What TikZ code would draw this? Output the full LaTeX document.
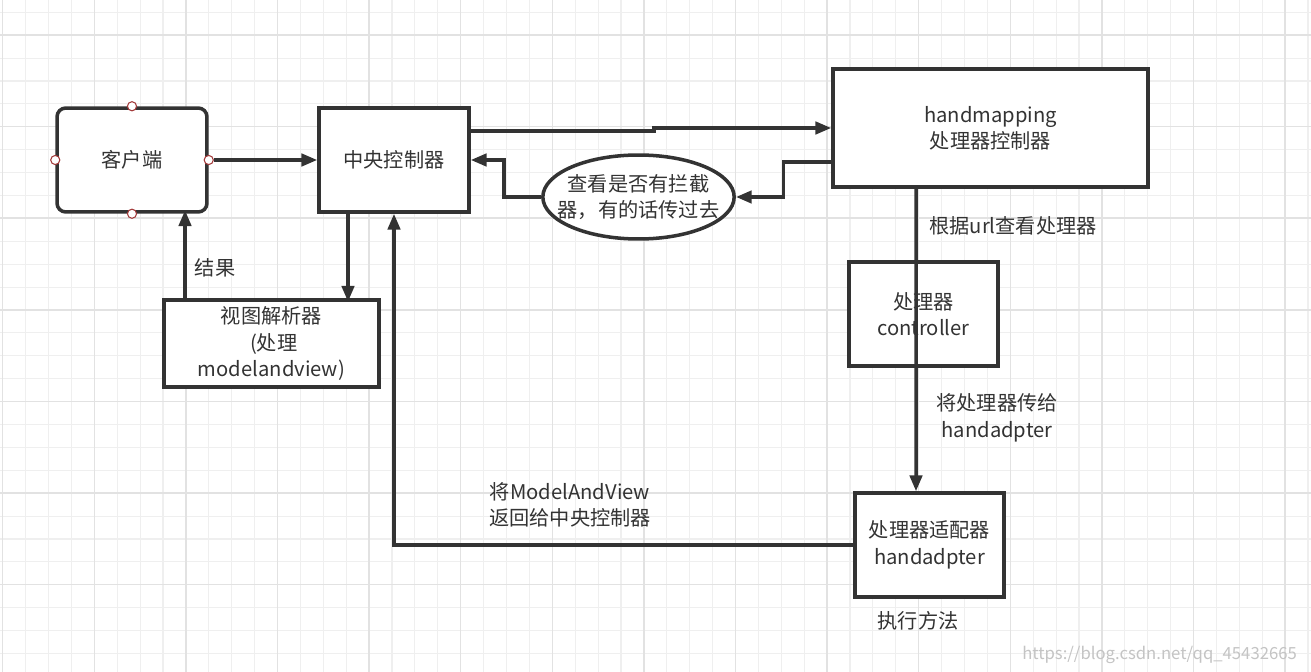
\documentclass[tikz,border=0pt]{standalone}
\usepackage{fontspec}
\setmainfont{Noto Sans CJK SC}
\usetikzlibrary{arrows.meta,shapes.geometric}

\definecolor{ink}{HTML}{333333}
\definecolor{gridminor}{HTML}{EFEFEF}
\definecolor{gridmajor}{HTML}{E2E2E2}
\definecolor{port}{HTML}{A33A3A}

\begin{document}
\begin{tikzpicture}[x=0.02cm, y=-0.02cm, >={Triangle[length=9pt,width=7pt]},
  every box/.style={draw=ink, line width=2pt, fill=white, text=ink, align=center,
    font=\fontsize{11.5}{15}\selectfont},
  every text/.style={text=ink, align=center, font=\fontsize{11.5}{15}\selectfont},
  flow/.style={->, draw=ink, line width=2pt},
  port/.style={circle, draw=port, fill=white, line width=0.6pt, inner sep=0pt, minimum size=5.2pt}]

% background and grid
\useasboundingbox (0,0) rectangle (1311,672);
\fill[white] (0,0) rectangle (1311,672);
\foreach \i in {0,...,57}
  \draw[gridminor, line width=0.6pt] (2.7+22.9*\i,0) -- ++(0,672);
\foreach \i in {0,...,29}
  \draw[gridminor, line width=0.6pt] (0,12.3+22.9*\i) -- ++(1311,0);
\foreach \i in {0,...,14}
  \draw[gridmajor, line width=0.8pt] (2.7+91.6*\i,0) -- ++(0,672);
\foreach \i in {0,...,7}
  \draw[gridmajor, line width=0.8pt] (0,35+91.6*\i) -- ++(1311,0);

% define boxes
\node [every box, rounded corners=5pt, minimum width=3cm, minimum height=2.08cm] (client) at (132,160) {客户端};
\node [every box, minimum width=3cm, minimum height=2.08cm] (central) at (394,160) {中央控制器};
\node [every box, minimum width=6.3cm, minimum height=2.36cm] (handmapping) at (990.5,128) {handmapping\\处理器控制器};
\node [every box, ellipse, minimum width=3.82cm, minimum height=1.68cm, inner sep=-7.5pt] (intercept) at (638.5,197) {查看是否有拦截\\器，有的话传过去};
\node [every box, minimum width=4.3cm, minimum height=1.74cm, inner sep=1pt] (resolver) at (271.5,343.5) {视图解析器\\\ (处理\\modelandview)};
\node [every box, minimum width=2.98cm, minimum height=2.08cm] (controller) at (923.5,314) {处理器\\controller};
\node [every box, minimum width=2.98cm, minimum height=2.08cm] (adapter) at (929.5,545) {处理器适配器\\handadpter};

% ports of the client
\foreach \a in {north,south,east,west}
  \node [port] (client-\a) at (client.\a) {};

% connect the boxes
\draw [flow] (client-east) -- (central.west);
\draw [flow] ([yshift=0.58cm]central.east) -- ++(183,0) |- (handmapping.west);
\draw [flow] ([yshift=-0.68cm]handmapping.west) -- ++(-48,0) |- (intercept.east);
\draw [flow] (intercept.west) -- ++(-37,0) |- (central.east);
\draw [flow] ([xshift=-0.92cm]central.south) -- ++(0,88);
\draw [flow] ([xshift=-1.73cm]resolver.north) -- ++(0,-88);
\draw [flow] ([xshift=-1.49cm]handmapping.south) -- ([xshift=-0.27cm]adapter.north);
\draw [flow] (adapter.west) -| (central.south);

% labels
\node [every text] (result) at (215,268) {结果};
\node [every text] (byurl) at (1013,226) {根据url查看处理器};
\node [every text] (pass) at (997,418) {将处理器传给\\handadpter};
\node [every text] (back) at (570,505) {将ModelAndView\\返回给中央控制器};
\node [every text] (execute) at (918,621) {执行方法};
\node [text=gridmajor!70!gray, anchor=east, font=\fontsize{9.5}{11}\selectfont] (mark) at (1303,655) {https://blog.csdn.net/qq\_45432665};

\end{tikzpicture}
\end{document}
